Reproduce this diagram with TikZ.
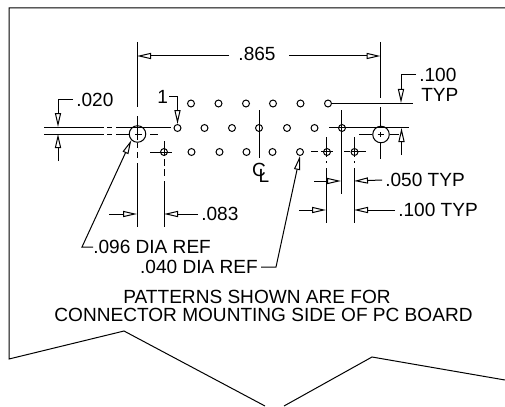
\documentclass[tikz,border=0pt]{standalone}
\usepackage{fontspec}
\setmainfont{Liberation Sans}
\usetikzlibrary{arrows.meta, positioning, calc}
\tikzset{
    holenode/.style={
        circle, draw, line width=0.75pt, minimum size=5.2pt, inner sep=0pt
    },
    bigholenode/.style={
        circle, draw, line width=0.75pt, minimum size=12.4pt, inner sep=0pt
    },
    dimlabel/.style={
        font=\fontsize{14.3}{14.3}\selectfont, inner xsep=2.25pt, inner ysep=0pt
    },
    thinline/.style={
        line width=0.75pt
    },
    dimarrow/.style={
        thinline, -{Triangle[open, length=10.5pt, width=4.6pt]}
    }
}

\begin{document}
\begin{tikzpicture}[x=0.75pt, y=-0.75pt]
    \useasboundingbox (0,0) rectangle (505,406);

    % --- 1. OUTLINE ---
    \coordinate (f1) at (505,8);
    \coordinate (f2) at (9,8);
    \coordinate (f3) at (9,359);
    \coordinate (f4) at (124,331);
    \coordinate (f5) at (265,406);
    \coordinate (f6) at (284,406);
    \coordinate (f7) at (372,357);
    \coordinate (f8) at (505,380);
    \draw[thinline] (f1) -- (f2) -- (f3) -- (f4) -- (f5);
    \draw[thinline] (f6) -- (f7) -- (f8);

    % --- 2. HOLES ---
    \node[bigholenode] (bigL) at (137.5,134) {};
    \node[bigholenode] (bigR) at (381,134.5) {};

    % top row
    \node[holenode] (a1) at (191,103.5) {};
    \node[holenode] (a2) at (218.5,103.5) {};
    \node[holenode] (a3) at (246,103.5) {};
    \node[holenode] (a4) at (273,103.5) {};
    \node[holenode] (a5) at (300.5,103.5) {};
    \node[holenode] (a6) at (328,103.5) {};
    % middle row
    \node[holenode] (b1) at (177.5,128) {};
    \node[holenode] (b2) at (204.5,128) {};
    \node[holenode] (b3) at (232,128) {};
    \node[holenode] (b4) at (259,128) {};
    \node[holenode] (b5) at (287,128) {};
    \node[holenode] (b6) at (314.5,128) {};
    \node[holenode] (b7) at (342,128) {};
    % bottom row
    \node[holenode] (c1) at (164,152) {};
    \node[holenode] (c2) at (191.5,152) {};
    \node[holenode] (c3) at (219.5,152) {};
    \node[holenode] (c4) at (246.5,152) {};
    \node[holenode] (c5) at (272.5,152) {};
    \node[holenode] (c6) at (300,152) {};
    \node[holenode] (c7) at (327,152) {};
    \node[holenode] (c8) at (354.5,152) {};

    % --- 3. TEXTS ---
    \node[dimlabel] (t865) at (257,54) {.865};
    \node[dimlabel, anchor=west] (t020) at (73,100) {.020};
    \node[dimlabel, anchor=west] (tone) at (154,97) {1};
    \node[dimlabel, anchor=west] (t100a) at (416,75) {.100};
    \node[dimlabel, anchor=west] (ttyp) at (418,95) {TYP};
    \node[dimlabel, anchor=west] (t050) at (382,180) {.050 TYP};
    \node[dimlabel, anchor=west] (t100b) at (395,210) {.100 TYP};
    \node[dimlabel, anchor=west] (t083) at (198,214) {.083};
    \node[dimlabel, anchor=west] (t096) at (90,247) {.096 DIA REF};
    \node[dimlabel, anchor=east] (t040) at (261,267) {.040 DIA REF};
    \node[dimlabel] (tpat) at (257,297) {PATTERNS SHOWN ARE FOR};
    \node[dimlabel] (tcon) at (263.5,315) {CONNECTOR MOUNTING SIDE OF PC BOARD};
    % centerline symbol
    \node[dimlabel] (tclc) at (259,170) {C};
    \node[dimlabel] (tcll) at (264,176) {L};

    % --- 4. CENTER AND EXTENSION LINES ---
    \coordinate (h1s) at (44,127.5);
    \coordinate (h1e) at (171,127.5);
    \coordinate (h2s) at (44,134);
    \coordinate (h2e) at (158,134);
    \coordinate (v1s) at (137,42);
    \coordinate (v1e) at (137,227);
    \coordinate (v2s) at (164,141);
    \coordinate (v2e) at (164,227);
    \coordinate (h3s) at (150,152);
    \coordinate (h3e) at (172,152);
    \coordinate (v3s) at (380.5,42);
    \coordinate (v3e) at (380.5,98);
    \coordinate (v4s) at (380.5,107);
    \coordinate (v4e) at (380.5,159);
    \coordinate (h4s) at (359,134);
    \coordinate (h4e) at (399,134);
    \coordinate (h5e) at (413,103.5);
    \coordinate (h6s) at (329,127.5);
    \coordinate (h6e) at (409,127.5);
    \coordinate (v5s) at (259,110);
    \coordinate (v5e) at (259,158);
    \coordinate (v6s) at (341,110);
    \coordinate (v6e) at (341,194);
    \coordinate (v7s) at (326,137);
    \coordinate (v7e) at (326,223);
    \coordinate (v8s) at (354,137);
    \coordinate (v8e) at (354,223);
    \coordinate (h7s) at (311,151);
    \coordinate (h7e) at (366,151);

    \draw[thinline, dash pattern=on 45pt off 2.25pt on 3.75pt off 3pt on 100pt] (h1s) -- (h1e);
    \draw[thinline, dash pattern=on 45pt off 2.25pt on 3.75pt off 3pt on 10.5pt off 3.75pt on 5.25pt off 6pt on 6pt off 10pt] (h2s) -- (h2e);
    \draw[thinline, dash pattern=on 48.75pt off 6.75pt on 18pt off 2.25pt on 3.75pt off 3pt on 4.5pt off 3.75pt on 60pt] (v1s) -- (v1e);
    \draw[thinline, dash pattern=on 11.25pt off 2.25pt on 5.25pt off 2.25pt on 5.25pt off 3.75pt on 60pt] (v2s) -- (v2e);
    \draw[thinline] (h3s) -- (h3e);
    \draw[thinline] (v3s) -- (v3e);
    \draw[thinline, dash pattern=on 15pt off 3.75pt on 3.75pt off 4.5pt on 20pt] (v4s) -- (v4e);
    \draw[thinline, dash pattern=on 10pt off 4pt on 4.5pt off 4.5pt on 20pt] (h4s) -- (h4e);
    \draw[thinline] (a6) -- (h5e);
    \draw[thinline] (h6s) -- (h6e);
    \draw[thinline] (v5s) -- (v5e);
    \draw[thinline] (v6s) -- (v6e);
    \draw[thinline, dash pattern=on 15pt off 3pt on 1.5pt off 3.75pt on 60pt] (v7s) -- (v7e);
    \draw[thinline, dash pattern=on 15pt off 3pt on 1.5pt off 3.75pt on 60pt] (v8s) -- (v8e);
    \draw[thinline, dash pattern=on 5.25pt off 2.25pt on 9pt off 8.6pt on 4.5pt off 0.75pt on 20pt] (h7s) -- (h7e);

    % --- 5. DIMENSION ARROWS ---
    % .865
    \coordinate (d865a) at (229,56);
    \coordinate (d865b) at (289,56);
    \draw[dimarrow] (d865a) -- (v1s |- d865a);
    \draw[dimarrow] (d865b) -- (v3s |- d865b);
    % .020
    \coordinate (d020a) at (58,127);
    \coordinate (d020b) at (58,161);
    \coordinate (d020c) at (58,134);
    \draw[dimarrow] (t020.west) -| (d020a);
    \draw[dimarrow] (d020b) -- (d020c);
    % pin 1
    \draw[dimarrow] ([xshift=-1.5pt]tone.east) -| (b1.north);
    % .100 right
    \coordinate (d100a) at (401,103);
    \coordinate (d100b) at (401.5,155);
    \coordinate (d100c) at (401.5,128);
    \draw[dimarrow] (t100a.west) -| (d100a);
    \draw[dimarrow] (d100b) -- (d100c);
    % .050
    \coordinate (d050a) at (314,181);
    \coordinate (d050b) at (341,181);
    \coordinate (d050c) at (354,181);
    \draw[dimarrow] (d050a) -- (d050b);
    \draw[dimarrow] (t050.west) -- (d050c);
    % .100 lower
    \coordinate (d100d) at (299,210);
    \coordinate (d100e) at (326,210);
    \coordinate (d100f) at (354,210);
    \draw[dimarrow] (d100d) -- (d100e);
    \draw[dimarrow] (t100b.west) -- (d100f);
    % .083
    \coordinate (d083a) at (109,214);
    \coordinate (d083b) at (137,214);
    \coordinate (d083c) at (164,214);
    \draw[dimarrow] (d083a) -- (d083b);
    \draw[dimarrow] (t083.west) -- (d083c);

    % --- 6. LEADERS ---
    \coordinate (l096) at (82,247);
    \coordinate (l040) at (276,267);
    \draw[dimarrow] ([xshift=2.25pt]t096.west) -- (l096) -- (bigL.south west);
    \draw[dimarrow] (t040.east) -- (l040) -- (c6.south);

\end{tikzpicture}
\end{document}
